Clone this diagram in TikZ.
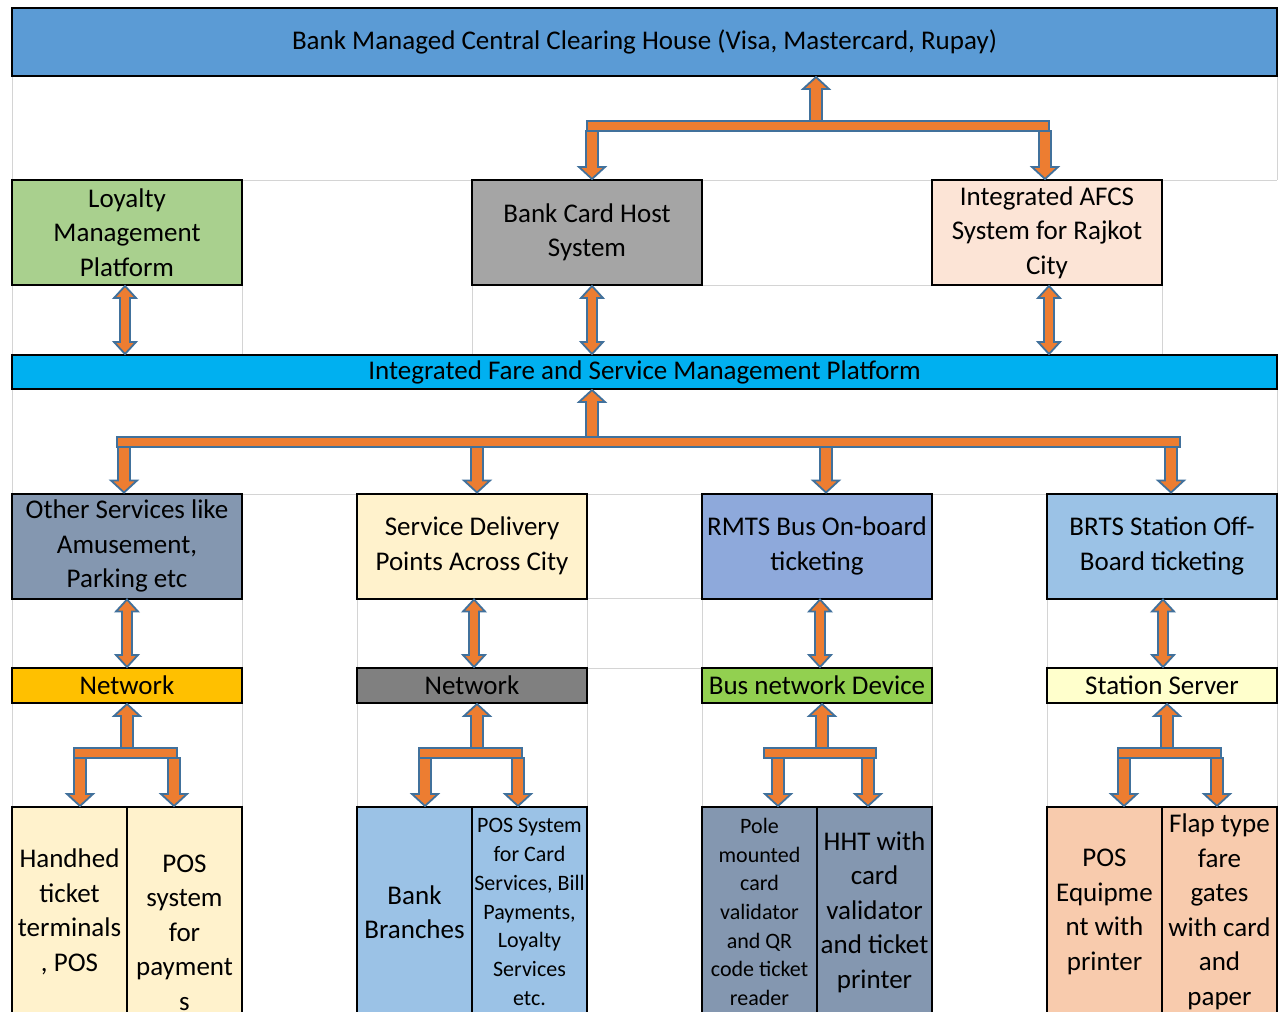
\documentclass[tikz,border=0pt]{standalone}
\usepackage{fontspec}
\setmainfont{Carlito}
\usetikzlibrary{calc}

\definecolor{chblue}{HTML}{5B9BD5}
\definecolor{lmpgreen}{HTML}{A9D08E}
\definecolor{bchgray}{HTML}{A5A5A5}
\definecolor{afcspink}{HTML}{FCE4D6}
\definecolor{ifsmcyan}{HTML}{00B0F0}
\definecolor{slate}{HTML}{8497B0}
\definecolor{cream}{HTML}{FFF2CC}
\definecolor{rmtsblue}{HTML}{8EA9DB}
\definecolor{skyblue}{HTML}{9BC2E6}
\definecolor{netamber}{HTML}{FFC000}
\definecolor{netgray}{HTML}{808080}
\definecolor{busgreen}{HTML}{92D050}
\definecolor{stationyellow}{HTML}{FFFFCC}
\definecolor{peach}{HTML}{F8CBAD}
\definecolor{arrfill}{HTML}{ED7D31}
\definecolor{arrline}{HTML}{41719C}
\definecolor{gridgray}{HTML}{D4D4D4}

\newcommand{\mainfs}{\fontsize{27}{34.5}\selectfont}
\newcommand{\smallfs}{\fontsize{22}{28.7}\selectfont}

\def\shaftw{6pt}
\def\headw{13pt}
\def\headl{12pt}

% block arrow, head at #2
\newcommand{\sarrow}[2]{%
	\path[blockarrow] let \p1=(#1), \p2=(#2), \n1={sign(\y2-\y1)} in
		(\x2-\shaftw,\y1) -- (\x2-\shaftw,{\y2-\n1*\headl}) -- (\x2-\headw,{\y2-\n1*\headl})
		-- (\x2,\y2) -- (\x2+\headw,{\y2-\n1*\headl}) -- (\x2+\shaftw,{\y2-\n1*\headl})
		-- (\x2+\shaftw,\y1) -- cycle;}
% block arrow, heads at both ends
\newcommand{\darrow}[2]{%
	\path[blockarrow] let \p1=(#1), \p2=(#2), \n1={sign(\y2-\y1)} in
		(\x2,\y1) -- (\x2+11pt,{\y1+\n1*\headl}) -- (\x2+5pt,{\y1+\n1*\headl})
		-- (\x2+5pt,{\y2-\n1*\headl}) -- (\x2+11pt,{\y2-\n1*\headl}) -- (\x2,\y2)
		-- (\x2-11pt,{\y2-\n1*\headl}) -- (\x2-5pt,{\y2-\n1*\headl})
		-- (\x2-5pt,{\y1+\n1*\headl}) -- (\x2-11pt,{\y1+\n1*\headl}) -- cycle;}

\begin{document}
\begin{tikzpicture}[%
	x=1pt, y=-1pt,%
	cellbox/.style ={draw=black, line width=2pt, align=center, inner sep=0pt, font=\mainfs},%
	wide/.style ={cellbox, minimum width=1265pt},%
	tall/.style ={cellbox, minimum width=230pt, minimum height=105pt},%
	thin/.style ={cellbox, minimum width=230pt, minimum height=35pt},%
	half/.style ={cellbox, minimum width=115pt, minimum height=210pt},%
	blockarrow/.style ={fill=arrfill, draw=arrline, line width=1.8pt, line join=miter},%
	gridline/.style ={gridgray, line width=1pt},%
	]
\useasboundingbox (0,0) rectangle (1278,1012);
\clip (0,0) rectangle (1278,1012);
\fill [white] (0,0) rectangle (1278,1012);
%%% grid
	\draw [gridline] (12,76) -- (12,1012);
	\foreach \x in {242,472,1162}
		{\draw [gridline] (\x,285) -- (\x,355);}
	\foreach \x in {242,357,587,702,932,1047,1277}
		{\draw [gridline] (\x,598) -- (\x,807);}
	\draw [gridline] (1277,76) -- (1277,180);
	\draw [gridline] (1277,389) -- (1277,494);
	\foreach \a/\b in {242/472,702/932,1162/1277}
		{\draw [gridline] (\a,180) -- (\b,180);}
	\draw [gridline] (702,285) -- (932,285);
	\foreach \a/\b in {242/357,587/702,932/1047}
		{\draw [gridline] (\a,494) -- (\b,494);}
	\draw [gridline] (587,598) -- (702,598);
	\draw [gridline] (587,668) -- (702,668);
%%% grid
%%% boxes
	\node [wide, fill=chblue, minimum height=68pt] (ch) at (644.5,42) {Bank Managed Central Clearing House (Visa, Mastercard, Rupay)};
	%
	\node [tall, fill=lmpgreen] (lmp) at (127,232.5) {Loyalty\\Management\\Platform};
	\node [tall, fill=bchgray] (bch) at (587,232.5) {Bank Card Host\\System};
	\node [tall, fill=afcspink] (afcs) at (1047,232.5) {Integrated AFCS\\System for Rajkot\\City};
	%
	\node [wide, fill=ifsmcyan, minimum height=34pt] (ifsm) at (644.5,372) {Integrated Fare and Service Management Platform};
	%
	\node [tall, fill=slate] (svc1) at (127,546) {Other Services like\\Amusement,\\Parking etc};
	\node [tall, fill=cream] (svc2) at (472,546) {Service Delivery\\Points Across City};
	\node [tall, fill=rmtsblue] (svc3) at (817,546) {RMTS Bus On-board\\ticketing};
	\node [tall, fill=skyblue] (svc4) at (1162,546) {BRTS Station Off-\\Board ticketing};
	%
	\node [thin, fill=netamber] (net1) at (127,685.5) {Network};
	\node [thin, fill=netgray] (net2) at (472,685.5) {Network};
	\node [thin, fill=busgreen] (net3) at (817,685.5) {Bus network Device};
	\node [thin, fill=stationyellow] (net4) at (1162,685.5) {Station Server};
	%
	\node [half, fill=cream] (devl1) at (69.5,912) {Handhed\\ticket\\terminals\\, POS};
	\node [half, fill=cream] (devr1) at (184.5,912) {\strut\\POS\\system\\for\\payment\\s};
	\node [half, fill=skyblue] (devl2) at (414.5,912) {Bank\\Branches};
	\node [half, fill=skyblue, font=\smallfs] (devr2) at (529.5,912) {POS System\\for Card\\Services, Bill\\Payments,\\Loyalty\\Services\\etc.};
	\node [half, fill=slate, font=\smallfs] (devl3) at (759.5,912) {Pole\\mounted\\card\\validator\\and QR\\code ticket\\reader};
	\node [half, fill=slate] (devr3) at (874.5,912) {HHT with\\card\\validator\\and ticket\\printer};
	\node [half, fill=peach] (devl4) at (1104.5,912) {POS\\Equipme\\nt with\\printer};
	\node [half, fill=peach] (devr4) at (1219.5,912) {Flap type\\fare\\gates\\with card\\and\\paper};
%%% boxes
%%% arrows
	% top bracket
	\coordinate (tbl) at (587,121);
	\coordinate (tbr) at (1049,131);
	\path [blockarrow] (tbl) rectangle (tbr);
	\coordinate (tbup) at (816,121);
	\sarrow{tbup}{tbup |- ch.south}
	\coordinate (tbd1) at (592,131);
	\sarrow{tbd1}{tbd1 |- bch.north}
	\coordinate (tbd2) at (1045,131);
	\sarrow{tbd2}{tbd2 |- afcs.north}
	% double arrows to the platform
	\coordinate (da1) at ($(lmp.south)+(-2,0)$);
	\darrow{da1}{da1 |- ifsm.north}
	\coordinate (da2) at ($(bch.south)+(5,0)$);
	\darrow{da2}{da2 |- ifsm.north}
	\coordinate (da3) at ($(afcs.south)+(2,0)$);
	\darrow{da3}{da3 |- ifsm.north}
	% middle bracket
	\coordinate (mbl) at (117,437);
	\coordinate (mbr) at (1180,447);
	\path [blockarrow] (mbl) rectangle (mbr);
	\coordinate (mbup) at (592,437);
	\sarrow{mbup}{mbup |- ifsm.south}
	\foreach \i/\x in {1/124,2/477,3/826,4/1171}
		{\coordinate (mbd\i) at (\x,447);
		\sarrow{mbd\i}{mbd\i |- svc\i.north}}
	% services to networks
	\foreach \i/\dx in {1/0,2/2,3/3,4/1}
		{\coordinate (sn\i) at ($(svc\i.south)+(\dx,0)$);
		\darrow{sn\i}{sn\i |- net\i.north}}
	% bottom brackets
	\foreach \i/\u/\l/\r/\a/\b in {1/127/74/177/80/174,2/477/419/522/425/518,3/822/764/876/778/868,4/1167/1118/1221/1124/1217}
		{\coordinate (bbl\i) at (\l,748);
		\coordinate (bbr\i) at (\r,758);
		\path [blockarrow] (bbl\i) rectangle (bbr\i);
		\coordinate (bbup\i) at (\u,748);
		\sarrow{bbup\i}{bbup\i |- net\i.south}
		\coordinate (bbdl\i) at (\a,758);
		\sarrow{bbdl\i}{bbdl\i |- devl\i.north}
		\coordinate (bbdr\i) at (\b,758);
		\sarrow{bbdr\i}{bbdr\i |- devr\i.north}}
%%% arrows
\end{tikzpicture}
\end{document}
